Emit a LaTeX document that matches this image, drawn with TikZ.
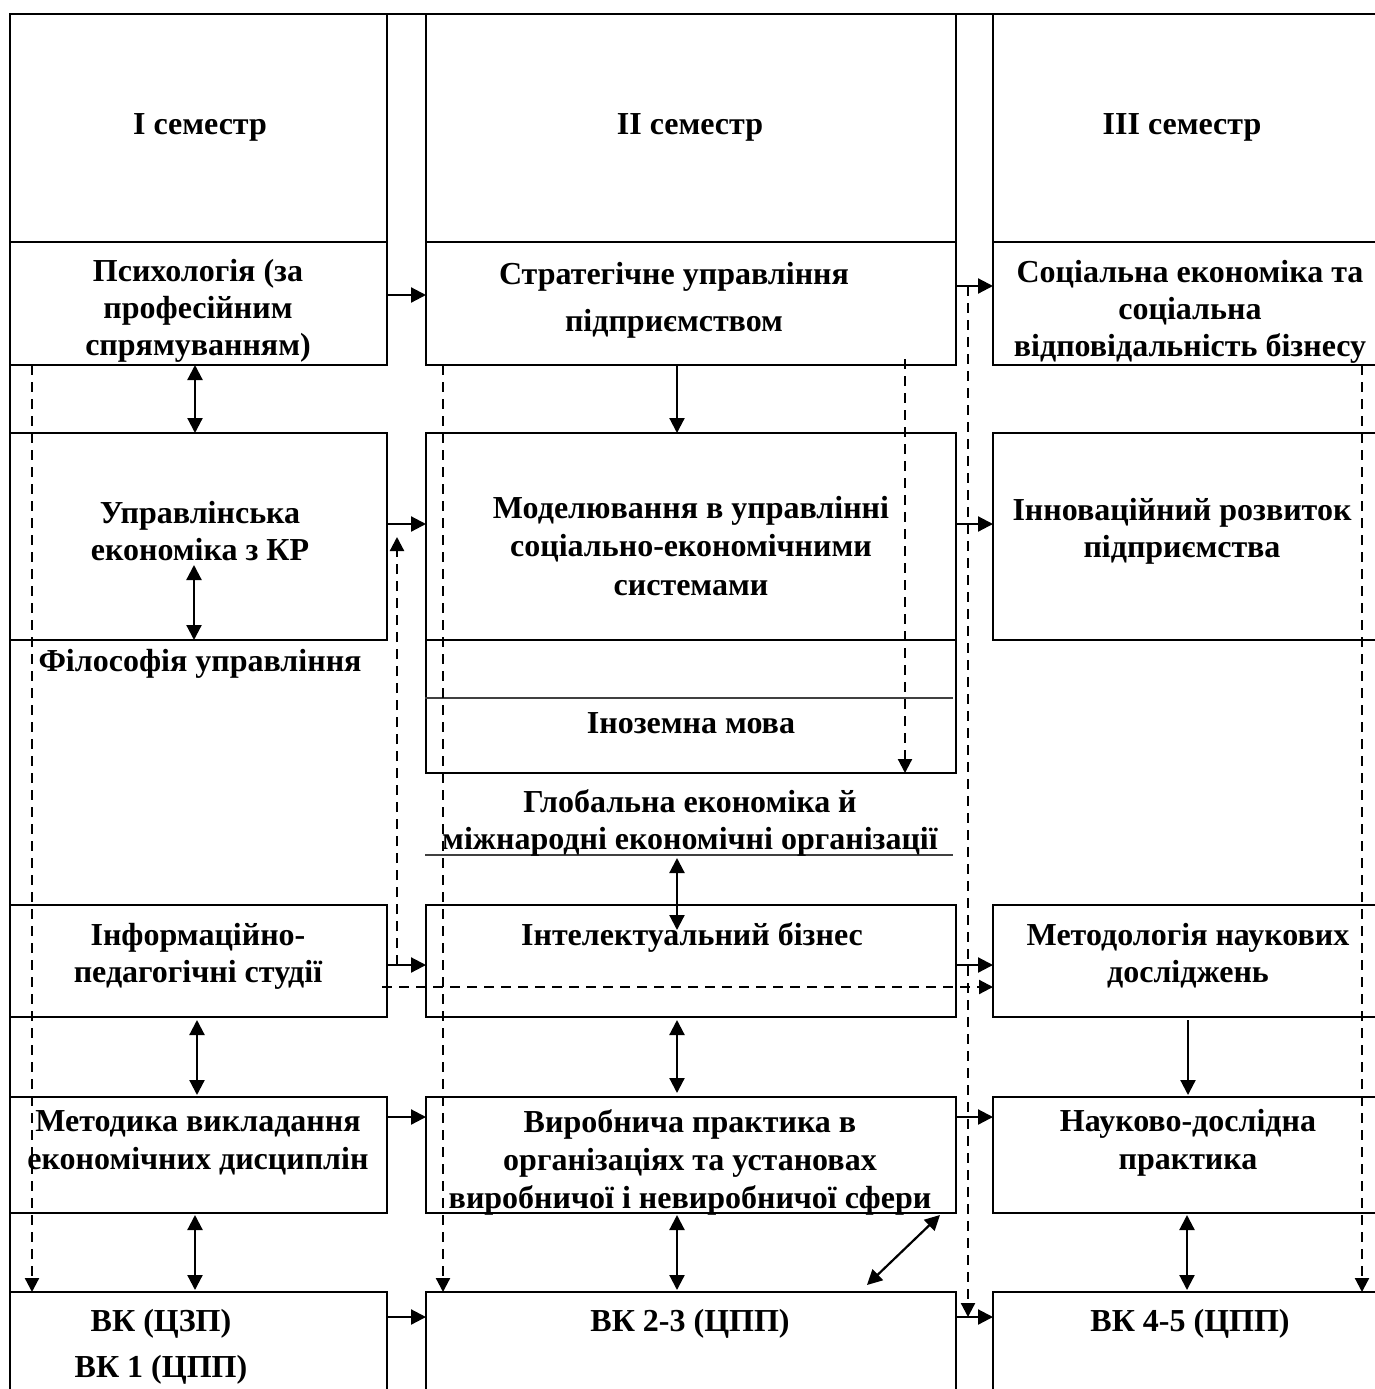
\documentclass[tikz,border=0pt]{standalone}
\usepackage{fontspec}
\setmainfont{Liberation Serif}
\usetikzlibrary{arrows.meta,calc}
\begin{document}
\begin{tikzpicture}[x=1pt,y=-1pt,
  box/.style={draw,line width=2.2pt,inner sep=0pt,outer sep=0pt,anchor=north west},
  lbl/.style={font=\bfseries\fontsize{32}{37}\selectfont,align=center,inner sep=0pt},
  arr/.style={line width=2.2pt,-{Triangle[length=15pt,width=15pt]}},
  darr/.style={line width=2.2pt,{Triangle[length=15pt,width=15pt]}-{Triangle[length=15pt,width=15pt]}},
  dsh/.style={line width=2.2pt,dash pattern=on 10pt off 7pt,-{Triangle[length=14pt,width=14pt]}},
  thinline/.style={line width=1.5pt,draw=black!75},
]
\useasboundingbox (0,0) rectangle (1375,1389);
% ---------- boxes, left column ----------
\node[box,minimum width=377pt,minimum height=228pt] (hA) at (10,14) {};
\node[box,minimum width=377pt,minimum height=123pt] (psy) at (10,242) {};
\node[box,minimum width=377pt,minimum height=207pt] (upr) at (10,433) {};
\node[box,minimum width=377pt,minimum height=112pt] (inf) at (10,905) {};
\node[box,minimum width=377pt,minimum height=116pt] (met) at (10,1097) {};
\node[box,minimum width=377pt,minimum height=110pt] (vka) at (10,1292) {};
% ---------- boxes, middle column ----------
\node[box,minimum width=530pt,minimum height=228pt] (hB) at (426,14) {};
\node[box,minimum width=530pt,minimum height=123pt] (str) at (426,242) {};
\node[box,minimum width=530pt,minimum height=207pt] (mod) at (426,433) {};
\node[box,minimum width=530pt,minimum height=133pt] (ino) at (426,640) {};
\node[box,minimum width=530pt,minimum height=112pt] (int) at (426,905) {};
\node[box,minimum width=530pt,minimum height=116pt] (vyr) at (426,1097) {};
\node[box,minimum width=530pt,minimum height=110pt] (vkb) at (426,1292) {};
% ---------- boxes, right column ----------
\node[box,minimum width=395pt,minimum height=228pt] (hC) at (993,14) {};
\node[box,minimum width=395pt,minimum height=123pt] (soc) at (993,242) {};
\node[box,minimum width=395pt,minimum height=207pt] (inn) at (993,433) {};
\node[box,minimum width=395pt,minimum height=112pt] (mtd) at (993,905) {};
\node[box,minimum width=395pt,minimum height=116pt] (nau) at (993,1097) {};
\node[box,minimum width=395pt,minimum height=110pt] (vkc) at (993,1292) {};
% continuous outer lines
\draw[line width=2.2pt] (hA.north west) -- (vka.south west);
\draw[line width=2.2pt] (hA.north west) -- (hC.north east);
% thin separators
\coordinate (s1a) at (425,698); \coordinate (s1b) at (953,698);
\coordinate (s2a) at (425,855); \coordinate (s2b) at (953,855);
\draw[thinline] (s1a) -- (s1b);
\draw[thinline] (s2a) -- (s2b);
% ---------- texts ----------
\node[lbl] (tA) at (200,127) {I семестр};
\node[lbl] (tB) at (690,127) {II семестр};
\node[lbl] (tC) at (1182,127) {III семестр};
\node[lbl] (tpsy) at (198,311) {Психологія (за\\професійним\\спрямуванням)};
\node[lbl,font=\bfseries\fontsize{32}{47}\selectfont] (tstr) at (674,300) {Стратегічне управління\\підприємством};
\node[lbl] (tsoc) at (1190,312) {Соціальна економіка та\\соціальна\\відповідальність бізнесу};
\node[lbl] (tupr) at (200,531) {Управлінська\\економіка з КР};
\node[lbl,font=\bfseries\fontsize{32}{38.5}\selectfont] (tmod) at (691,546) {Моделювання в управлінні\\соціально-економічними\\системами};
\node[lbl] (tinn) at (1182,531) {Інноваційний розвиток\\підприємства};
\node[lbl] (tfil) at (200,664) {Філософія управління};
\node[lbl] (tino) at (691,723) {Іноземна мова};
\node[lbl] (tglo) at (690,823) {Глобальна економіка й\\міжнародні економічні організації};
\node[lbl] (tinf) at (198,956) {Інформаційно-\\педагогічні студії};
\node[lbl] (tint) at (692,937) {Інтелектуальний бізнес};
\node[lbl] (tmtd) at (1188,956) {Методологія наукових\\досліджень};
\node[lbl,font=\bfseries\fontsize{32}{38}\selectfont] (tmet) at (198,1143) {Методика викладання\\економічних дисциплін};
\node[lbl,font=\bfseries\fontsize{32}{38}\selectfont] (tvyr) at (690,1162) {Виробнича практика в\\організаціях та установах\\виробничої і невиробничої сфери};
\node[lbl,font=\bfseries\fontsize{32}{38}\selectfont] (tnau) at (1188,1143) {Науково-дослідна\\практика};
\node[lbl,font=\bfseries\fontsize{32}{46}\selectfont] (tvka) at (161,1347) {ВК (ЦЗП)\\ВК 1 (ЦПП)};
\node[lbl] (tvkb) at (690,1324) {ВК 2-3 (ЦПП)};
\node[lbl] (tvkc) at (1190,1324) {ВК 4-5 (ЦПП)};
% ---------- horizontal solid arrows ----------
\draw[arr] (psy.east |- 0,295) -- (str.west |- 0,295);
\draw[arr] (str.east |- 0,286) -- (soc.west |- 0,286);
\draw[arr] (upr.east |- 0,524) -- (mod.west |- 0,524);
\draw[arr] (mod.east |- 0,524) -- (inn.west |- 0,524);
\draw[arr] (inf.east |- 0,965) -- (int.west |- 0,965);
\draw[arr] (int.east |- 0,965) -- (mtd.west |- 0,965);
\draw[arr] (met.east |- 0,1117) -- (vyr.west |- 0,1117);
\draw[arr] (vyr.east |- 0,1117) -- (nau.west |- 0,1117);
\draw[arr] (vka.east |- 0,1317) -- (vkb.west |- 0,1317);
\draw[arr] (vkb.east |- 0,1317) -- (vkc.west |- 0,1317);
% ---------- vertical solid arrows ----------
\draw[darr] (psy.south -| 195,0) -- (upr.north -| 195,0);
\draw[arr] (str.south -| 677,0) -- (mod.north -| 677,0);
\coordinate (fil) at (194,565);
\draw[darr] (fil) -- (upr.south -| fil);
\coordinate (gl) at (677,858);
\coordinate (gi) at (677,930);
\draw[darr] (gl) -- (gi);
\draw[darr] ($(inf.south -| 197,0)+(0,3)$) -- ($(met.north -| 197,0)+(0,-2)$);
\draw[darr] ($(int.south -| 677,0)+(0,3)$) -- ($(vyr.north -| 677,0)+(0,-4)$);
\draw[arr] ($(mtd.south -| 1188,0)+(0,3)$) -- ($(nau.north -| 1188,0)+(0,-2)$);
\draw[darr] ($(met.south -| 195,0)+(0,2)$) -- ($(vka.north -| 195,0)+(0,-2)$);
\draw[darr] ($(vyr.south -| 677,0)+(0,2)$) -- ($(vkb.north -| 677,0)+(0,-2)$);
\draw[darr] ($(nau.south -| 1187,0)+(0,2)$) -- ($(vkc.north -| 1187,0)+(0,-2)$);
\coordinate (dg1) at (940,1215);
\coordinate (dg2) at (867,1285);
\draw[darr] (dg1) -- (dg2);
% ---------- dashed arrows ----------
\draw[dsh] (psy.south -| 32,0) -- (vka.north -| 32,0);
\draw[dsh] (str.south -| 443,0) -- (vkb.north -| 443,0);
\coordinate (d3) at (905,359);
\draw[dsh] (d3) -- (ino.south -| d3);
\coordinate (d4) at (968,286);
\coordinate (d4e) at (968,1317);
\draw[dsh] (d4) -- (d4e);
\draw[dsh] (soc.south -| 1362,0) -- (vkc.north -| 1362,0);
\coordinate (d6) at (397,965);
\draw[dsh] (d6) -- (397,537);
\coordinate (d7) at (382,987);
\draw[dsh] (d7) -- (mtd.west |- d7);
\end{tikzpicture}
\end{document}
